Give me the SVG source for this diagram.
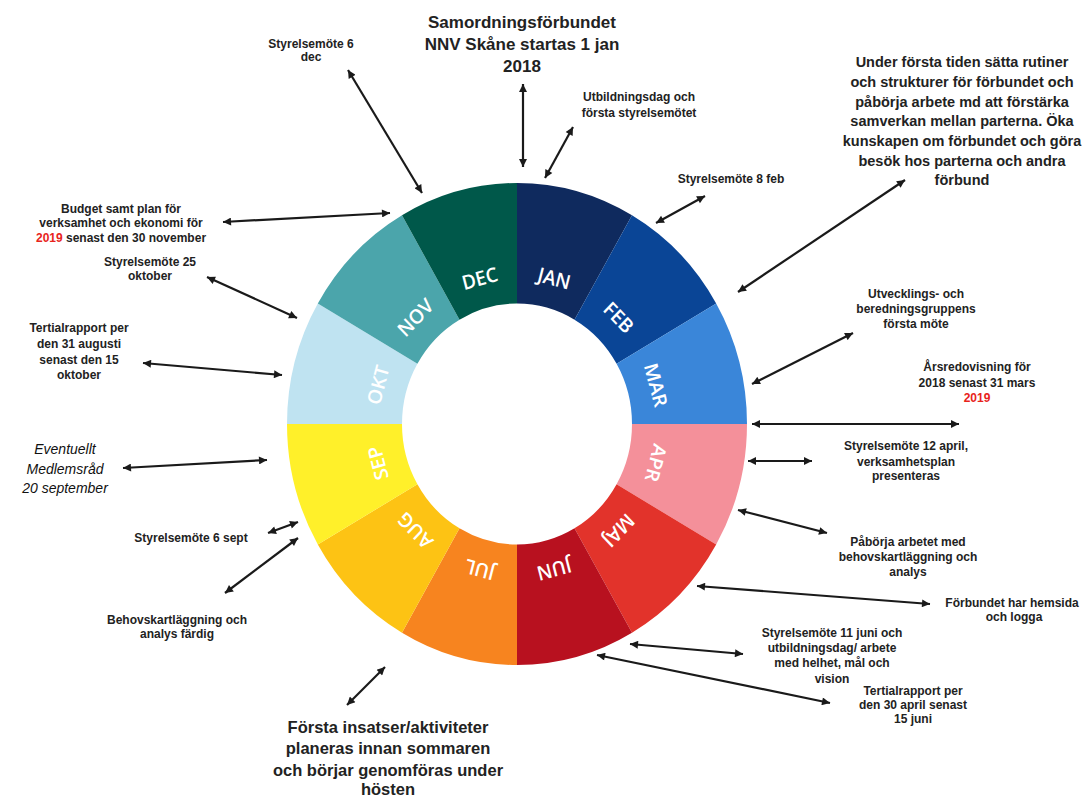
<svg xmlns="http://www.w3.org/2000/svg" width="1084" height="796" viewBox="0 0 1084 796">
<defs>
<marker id="ah" viewBox="0 0 10 10" refX="10" refY="5" markerWidth="10" markerHeight="8" markerUnits="userSpaceOnUse" orient="auto-start-reverse"><path d="M0,0 L10,5 L0,10 z" fill="#1a1a1a"/></marker>
</defs>
<style>
.t{font-family:"Liberation Sans",Arial,sans-serif;font-weight:bold;font-size:12px;fill:#222;text-anchor:middle}
.big{font-size:14.5px}
.hd{font-size:17px}
.bt{font-size:16.5px}
.it{font-weight:normal;font-style:italic;font-size:14px;fill:#111}
.red{fill:#e8241c}
.m{font-family:"Open Sans","Liberation Sans",sans-serif;font-weight:600;font-size:19px;fill:#fff;text-anchor:middle}
.c line{stroke:#1a1a1a;stroke-width:2.2;marker-start:url(#ah);marker-end:url(#ah)}
</style>
<rect width="1084" height="796" fill="#fff"/>
<g id="wheel" transform="translate(517,424) scale(1,1.048)">
<g id="jan"><path d="M0,-230 A230,230 0 0 1 115,-199.19 L57.5,-99.59 A115,115 0 0 0 0,-115 Z" fill="#0f2a5e"/><text class="m" transform="rotate(15)" x="0" y="-137">JAN</text></g>
<g id="feb"><path d="M115,-199.19 A230,230 0 0 1 199.19,-115 L99.59,-57.5 A115,115 0 0 0 57.5,-99.59 Z" fill="#0a4596"/><text class="m" transform="rotate(45)" x="0" y="-137">FEB</text></g>
<g id="mar"><path d="M199.19,-115 A230,230 0 0 1 230,0 L115,0 A115,115 0 0 0 99.59,-57.5 Z" fill="#3a86d9"/><text class="m" transform="rotate(75)" x="0" y="-137">MAR</text></g>
<g id="apr"><path d="M230,0 A230,230 0 0 1 199.19,115 L99.59,57.5 A115,115 0 0 0 115,0 Z" fill="#f4909a"/><text class="m" transform="rotate(105)" x="0" y="-137">APR</text></g>
<g id="maj"><path d="M199.19,115 A230,230 0 0 1 115,199.19 L57.5,99.59 A115,115 0 0 0 99.59,57.5 Z" fill="#e2332b"/><text class="m" transform="rotate(135)" x="0" y="-137">MAJ</text></g>
<g id="jun"><path d="M115,199.19 A230,230 0 0 1 0,230 L0,115 A115,115 0 0 0 57.5,99.59 Z" fill="#b8111f"/><text class="m" transform="rotate(165)" x="0" y="-137">JUN</text></g>
<g id="jul"><path d="M0,230 A230,230 0 0 1 -115,199.19 L-57.5,99.59 A115,115 0 0 0 0,115 Z" fill="#f7841f"/><text class="m" transform="rotate(195)" x="0" y="-137">JUL</text></g>
<g id="aug"><path d="M-115,199.19 A230,230 0 0 1 -199.19,115 L-99.59,57.5 A115,115 0 0 0 -57.5,99.59 Z" fill="#fdc314"/><text class="m" transform="rotate(225)" x="0" y="-137">AUG</text></g>
<g id="sep"><path d="M-199.19,115 A230,230 0 0 1 -230,0 L-115,0 A115,115 0 0 0 -99.59,57.5 Z" fill="#fff02a"/><text class="m" transform="rotate(255)" x="0" y="-137">SEP</text></g>
<g id="okt"><path d="M-230,0 A230,230 0 0 1 -199.19,-115 L-99.59,-57.5 A115,115 0 0 0 -115,0 Z" fill="#bfe3f1"/><text class="m" transform="rotate(285)" x="0" y="-137">OKT</text></g>
<g id="nov"><path d="M-199.19,-115 A230,230 0 0 1 -115,-199.19 L-57.5,-99.59 A115,115 0 0 0 -99.59,-57.5 Z" fill="#4ba5ab"/><text class="m" transform="rotate(315)" x="0" y="-137">NOV</text></g>
<g id="dec"><path d="M-115,-199.19 A230,230 0 0 1 0,-230 L0,-115 A115,115 0 0 0 -57.5,-99.59 Z" fill="#00584a"/><text class="m" transform="rotate(345)" x="0" y="-137">DEC</text></g>
</g>
<g id="connectors" class="c">
<line x1="523" y1="84" x2="523" y2="167"/>
<line x1="348" y1="70" x2="422" y2="193"/>
<line x1="573" y1="127" x2="545" y2="178"/>
<line x1="705" y1="196" x2="656" y2="223"/>
<line x1="905" y1="180" x2="738" y2="292"/>
<line x1="853" y1="333" x2="752" y2="384"/>
<line x1="752" y1="424" x2="959" y2="424"/>
<line x1="748" y1="461" x2="812" y2="461"/>
<line x1="738" y1="510" x2="827" y2="533"/>
<line x1="697" y1="586" x2="930" y2="604"/>
<line x1="630" y1="644" x2="743" y2="654"/>
<line x1="597" y1="655" x2="830" y2="703"/>
<line x1="385" y1="667" x2="347" y2="705"/>
<line x1="298" y1="538" x2="225" y2="593"/>
<line x1="268" y1="533" x2="298" y2="522"/>
<line x1="123" y1="468" x2="267" y2="460"/>
<line x1="143" y1="363" x2="282" y2="375"/>
<line x1="207" y1="277" x2="297" y2="318"/>
<line x1="223" y1="222" x2="390" y2="213"/>
</g>
<g id="n-start"><text class="t hd" x="522" y="28">Samordningsförbundet</text><text class="t hd" x="522" y="50">NNV Skåne startas 1 jan</text><text class="t hd" x="522" y="72">2018</text></g>
<g id="n-dec6"><text class="t" x="311" y="48">Styrelsemöte 6</text><text class="t" x="311" y="61">dec</text></g>
<g id="n-utb"><text class="t" x="639" y="101">Utbildningsdag och</text><text class="t" x="639" y="117">första styrelsemötet</text></g>
<g id="n-feb8"><text class="t" x="731" y="183">Styrelsemöte 8 feb</text></g>
<g id="n-rutiner"><text class="t big" x="962" y="67">Under första tiden sätta rutiner</text><text class="t big" x="962" y="87">och strukturer för förbundet och</text><text class="t big" x="962" y="107">påbörja arbete md att förstärka</text><text class="t big" x="962" y="126">samverkan mellan parterna. Öka</text><text class="t big" x="962" y="146">kunskapen om förbundet och göra</text><text class="t big" x="962" y="166">besök hos parterna och andra</text><text class="t big" x="962" y="185">förbund</text></g>
<g id="n-utv"><text class="t" x="916" y="298">Utvecklings- och</text><text class="t" x="916" y="313">beredningsgruppens</text><text class="t" x="916" y="328">första möte</text></g>
<g id="n-ars"><text class="t" x="977" y="371">Årsredovisning för</text><text class="t" x="977" y="387">2018 senast 31 mars</text><text class="t red" x="977" y="402">2019</text></g>
<g id="n-apr12"><text class="t" x="906" y="450">Styrelsemöte 12 april,</text><text class="t" x="906" y="466">verksamhetsplan</text><text class="t" x="906" y="480">presenteras</text></g>
<g id="n-pabor"><text class="t" x="908" y="546">Påbörja arbetet med</text><text class="t" x="908" y="561">behovskartläggning och</text><text class="t" x="908" y="576">analys</text></g>
<g id="n-hemsida"><text class="t" x="1012" y="607">Förbundet har hemsida</text><text class="t" x="1014" y="621">och logga</text></g>
<g id="n-jun11"><text class="t" x="832" y="637">Styrelsemöte 11 juni och</text><text class="t" x="832" y="652">utbildningsdag/ arbete</text><text class="t" x="832" y="667">med helhet, mål och</text><text class="t" x="832" y="683">vision</text></g>
<g id="n-tert1"><text class="t" x="913" y="695">Tertialrapport per</text><text class="t" x="913" y="709">den 30 april senast</text><text class="t" x="913" y="723">15 juni</text></g>
<g id="n-forsta"><text class="t bt" x="388" y="733">Första insatser/aktiviteter</text><text class="t bt" x="388" y="754">planeras innan sommaren</text><text class="t bt" x="388" y="776">och börjar genomföras under</text><text class="t bt" x="388" y="795">hösten</text></g>
<g id="n-behov"><text class="t" x="177" y="624">Behovskartläggning och</text><text class="t" x="177" y="638">analys färdig</text></g>
<g id="n-sep6"><text class="t" x="191" y="542">Styrelsemöte 6 sept</text></g>
<g id="n-medl"><text class="t it" x="65" y="454">Eventuellt</text><text class="t it" x="65" y="474">Medlemsråd</text><text class="t it" x="65" y="493">20 september</text></g>
<g id="n-tert2"><text class="t" x="79" y="332">Tertialrapport per</text><text class="t" x="79" y="348">den 31 augusti</text><text class="t" x="79" y="364">senast den 15</text><text class="t" x="79" y="379">oktober</text></g>
<g id="n-okt25"><text class="t" x="150" y="266">Styrelsemöte 25</text><text class="t" x="150" y="280">oktober</text></g>
<g id="n-budget"><text class="t" x="121" y="213">Budget samt plan för</text><text class="t" x="121" y="227">verksamhet och ekonomi för</text><text class="t" x="121" y="242"><tspan class="red">2019</tspan> senast den 30 november</text></g>
</svg>
